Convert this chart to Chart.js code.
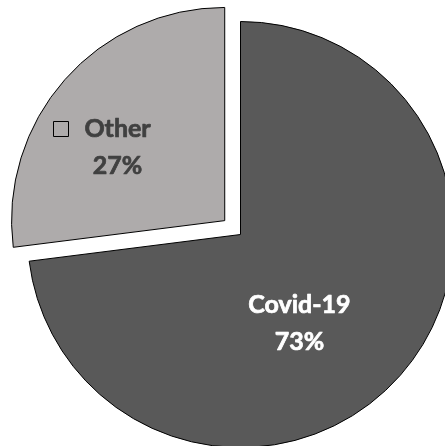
<!DOCTYPE html>
<html lang="en">
<head>
    <meta charset="UTF-8">
    <title>Covid-19 share</title>
    <script src="https://cdn.jsdelivr.net/npm/chart.js"></script>
    <style>
      html, body { margin: 0; padding: 0; background: #fff; }
      #wrap { position: relative; width: 445px; height: 446px; overflow: hidden; }
      #chart { position: absolute; left: -15px; top: -21px; }
    </style>
</head>
<body>
  <div id="wrap"><canvas id="chart" width="511" height="511"></canvas></div>

  <script>
    const labels = ['Covid-19', 'Other'];
    const shares = [73, 27];
    const colors = ['#595959', '#aeabab'];
    const textColors = ['#ffffff', '#404040'];

    // label placement: degrees turned from the slice bisector, fraction of radius
    const labelPlace = [[15, 0.5], [-7, 0.61]];

    const sliceLabels = {
      id: 'sliceLabels',
      afterDatasetsDraw(chart) {
        const ctx = chart.ctx;
        const arcs = chart.getDatasetMeta(0).data;
        ctx.save();
        ctx.font = 'bold 25px Lato';
        ctx.textAlign = 'center';
        ctx.textBaseline = 'middle';
        ctx.lineJoin = 'round';
        arcs.forEach((arc, i) => {
          const p = arc.getProps(['x', 'y', 'startAngle', 'endAngle', 'outerRadius']);
          const mid = (p.startAngle + p.endAngle) / 2;
          const shift = (arc.options.offset || 0) / 4;
          const cx = p.x + Math.cos(mid) * shift;
          const cy = p.y + Math.sin(mid) * shift;
          const a = mid + labelPlace[i][0] * Math.PI / 180;
          const r = p.outerRadius * labelPlace[i][1];
          const x = cx + Math.cos(a) * r;
          const y = cy + Math.sin(a) * r;
          ctx.fillStyle = textColors[i];
          ctx.strokeStyle = textColors[i];
          ctx.lineWidth = 0.7;
          [[labels[i], y - 18.5], [shares[i] + '%', y + 18.5]].forEach(([t, ty]) => {
            ctx.fillText(t, x, ty);
            ctx.strokeText(t, x, ty);
          });
          if (i === 1) {
            const w = ctx.measureText(labels[i]).width;
            ctx.fillStyle = colors[i];
            ctx.strokeStyle = '#000';
            ctx.lineWidth = 1;
            const sx = Math.round(x - w / 2 - 31) + 0.5;
            const sy = Math.round(y - 18.5 - 8) + 0.5;
            ctx.fillRect(sx, sy, 15, 15);
            ctx.strokeRect(sx, sy, 15, 15);
          }
        });
        ctx.restore();
      }
    };

    new Chart(document.querySelector('#chart'), {
      type: 'pie',
      data: {
        labels: labels,
        datasets: [{
          data: shares,
          backgroundColor: colors,
          borderColor: '#000',
          borderWidth: 1,
          hoverBorderWidth: 1,
          offset: [0, 84],
          hoverOffset: 0,
        }]
      },
      options: {
        responsive: false,
        animation: false,
        events: [],
        layout: { padding: 0 },
        plugins: {
          legend: { display: false },
          tooltip: { enabled: false },
        }
      },
      plugins: [sliceLabels]
    });
  </script>
</body>
</html>
